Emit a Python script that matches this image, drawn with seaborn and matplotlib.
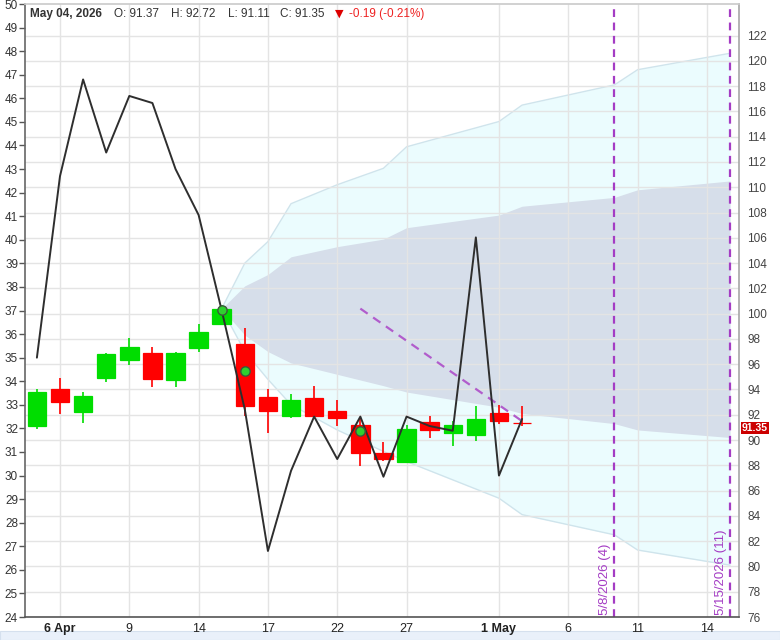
import numpy as np
import pandas as pd
import matplotlib
matplotlib.use("Agg")
import matplotlib.pyplot as plt
import matplotlib.patches as mpatches
import seaborn as sns

# ---------------- data ----------------
candle_dates = ["2026-04-03", "2026-04-06", "2026-04-07", "2026-04-08", "2026-04-09",
                "2026-04-10", "2026-04-13", "2026-04-14", "2026-04-15", "2026-04-16",
                "2026-04-17", "2026-04-20", "2026-04-21", "2026-04-22", "2026-04-23",
                "2026-04-24", "2026-04-27", "2026-04-28", "2026-04-29", "2026-04-30",
                "2026-05-01", "2026-05-04"]
opens = [91.14, 94.00, 92.25, 94.93, 96.37, 96.92, 94.77, 97.32, 99.17, 97.56, 93.40,
         91.89, 93.34, 92.29, 91.22, 88.97, 88.23, 91.41, 90.56, 90.40, 92.13, 91.37]
highs = [94.00, 94.90, 93.80, 96.90, 98.04, 97.38, 97.00, 99.15, 100.67, 98.89, 94.00,
         93.64, 94.27, 93.13, 91.73, 89.87, 91.22, 91.93, 91.54, 92.68, 92.79, 92.72]
lows = [90.90, 92.07, 91.35, 94.56, 95.90, 94.20, 94.20, 96.98, 99.10, 91.93, 90.56,
        91.73, 91.88, 91.14, 87.91, 88.36, 88.20, 90.18, 89.50, 89.95, 91.27, 91.11]
closes = [93.80, 93.05, 93.48, 96.82, 97.38, 94.85, 96.92, 98.51, 100.37, 92.68, 92.33,
          93.18, 91.93, 91.73, 88.94, 88.49, 90.88, 90.82, 91.22, 91.67, 91.54, 91.35]

# indicator (left axis)
indicator = [35.0, 42.7, 46.8, 43.7, 46.1, 45.8, 43.0, 41.05, 37.0, 32.8, 26.8,
             30.2, 32.5, 30.7, 32.5, 29.95, 32.5, 32.1, 31.9, 40.1, 30.0, 32.4]

# signal markers (price axis)
signal_dates = ["2026-04-15", "2026-04-16", "2026-04-23"]
signal_values = [100.3, 95.44, 90.72]

# forecast cone (price axis)
fan_dates = ["2026-04-15", "2026-04-16", "2026-04-17", "2026-04-20", "2026-04-22",
             "2026-04-24", "2026-04-27", "2026-05-01", "2026-05-04", "2026-05-08",
             "2026-05-11", "2026-05-15"]
outer_upper = [100.4, 104.0, 105.7, 108.7, 110.2, 111.5, 113.2, 115.2, 116.5, 118.1, 119.3, 120.6]
inner_upper = [100.4, 102.2, 103.1, 104.5, 105.3, 105.9, 106.8, 107.8, 108.5, 109.2, 109.8, 110.5]
inner_lower = [100.4, 98.3, 97.0, 96.1, 95.2, 94.3, 93.8, 92.6, 92.1, 91.3, 90.8, 90.2]
outer_lower = [100.4, 97.0, 94.8, 92.8, 90.8, 89.1, 88.3, 85.4, 84.1, 82.5, 81.3, 80.1]

# trend line (price axis)
trend_dates = ["2026-04-23", "2026-05-04"]
trend_values = [100.4, 91.5]

# markers of future dates
vline_dates = ["2026-05-08", "2026-05-15"]
vline_labels = ["5/8/2026 (4)", "5/15/2026 (11)"]

# x ticks
tick_dates = ["2026-04-06", "2026-04-09", "2026-04-14", "2026-04-17", "2026-04-22",
              "2026-04-27", "2026-05-01", "2026-05-06", "2026-05-11", "2026-05-14"]
tick_labels = ["6 Apr", "9", "14", "17", "22", "27", "1 May", "6", "11", "14"]
bold_ticks = ["6 Apr", "1 May"]

header_date = "May 04, 2026"
header_ohlc = ["O: 91.37", "H: 92.72", "L: 91.11", "C: 91.35"]
header_change = "-0.19 (-0.21%)"
last_price = 91.35

# ---------------- style ----------------
sns.set_theme(style="white")
plt.rcParams['font.family'] = ['Liberation Sans', 'DejaVu Sans']

trading_days = pd.bdate_range("2026-04-03", "2026-05-15")
pos = {d.strftime("%Y-%m-%d"): i for i, d in enumerate(trading_days)}

GREEN = "#00dd00"
RED = "#ff0000"
PURPLE = "#a43cc4"
GRID = "#e4e4e4"

fig = plt.figure(figsize=(7.8, 6.4), dpi=100)
fig.patch.set_facecolor("white")
fig.patches.append(mpatches.Rectangle((0, 0), 1, 9 / 640, transform=fig.transFigure,
                                      facecolor="#e9f0fa", edgecolor="#d5e0ee", lw=0.8, zorder=-5))

rect = [25 / 780, 23 / 640, 714 / 780, 613 / 640]
ax_ind = fig.add_axes(rect)
ax = ax_ind.twinx()
ax.set_zorder(1)
ax_ind.set_zorder(2)
ax.patch.set_visible(True)
ax.patch.set_facecolor("white")
ax_ind.patch.set_visible(False)

# forecast cone
fx = [pos[d] for d in fan_dates]
ax.fill_between(fx, outer_lower, outer_upper, color="#ebfcfe", lw=0, zorder=0.2)
ax.plot(fx, outer_upper, color="#cfe4ec", lw=1, zorder=0.25)
ax.plot(fx, outer_lower, color="#cfe4ec", lw=1, zorder=0.25)
ax.fill_between(fx, inner_lower, inner_upper, color="#d6deea", lw=0, zorder=0.3)

# candles
cx = [pos[d] for d in candle_dates]
for x, o, h, l, c in zip(cx, opens, highs, lows, closes):
    col = GREEN if c >= o else RED
    ax.vlines(x, l, h, color=col, lw=1.2, zorder=3)
    ax.bar(x, max(abs(c - o), 0.01), bottom=min(o, c), width=0.8, color=col,
           edgecolor=col, linewidth=0.9, zorder=4)

# trend line
ax.plot([pos[d] for d in trend_dates], trend_values, color="#b15ccc", lw=1.6,
        ls=(0, (4, 3)), zorder=5)

# vertical date markers
for d, lab in zip(vline_dates, vline_labels):
    x = pos[d]
    ax.axvline(x, color=PURPLE, lw=1.6, ls=(0, (3.5, 2.5)), zorder=5)
    ax.text(x - 0.40, 76.15, lab, rotation=90, ha="center", va="bottom",
            color=PURPLE, fontsize=9.5, zorder=6)

# indicator line on the left axis
sns.lineplot(x=cx, y=indicator, ax=ax_ind, color="#2e2e2e", lw=1.4, zorder=5)

# signal markers (price coordinates, drawn on top)
ax_ind.scatter([pos[d] for d in signal_dates], signal_values, transform=ax.transData,
               s=45, facecolor="#2fd02f", edgecolor="#3a5a3a", linewidth=1.0, zorder=7)

# limits / ticks
xlim = (-0.515, 30.39)
ax_ind.set_xlim(*xlim)
ax.set_xlim(*xlim)
ax_ind.set_ylim(24, 50)
ax.set_ylim(76, 124.5)

ax_ind.set_yticks(range(24, 51))
ax.set_yticks(range(76, 123, 2))
xt = [pos[d] for d in tick_dates]
ax_ind.set_xticks(xt)
ax_ind.set_xticklabels(tick_labels)
ax.xaxis.set_visible(True)
ax.set_xticks(xt)
ax.tick_params(axis="x", bottom=False, top=False, labelbottom=False, labeltop=False)
for t in ax_ind.get_xticklabels():
    t.set_family(['Liberation Sans Narrow', 'Liberation Sans', 'DejaVu Sans'])
    if t.get_text() in bold_ticks:
        t.set_fontweight("bold")

ax.grid(True, axis="both", color=GRID, lw=1, zorder=0.5)
ax_ind.grid(False)

ax_ind.tick_params(axis="y", left=True, length=4, width=1, color="#555555",
                   labelsize=8.5, labelcolor="#333333", pad=1)
ax_ind.tick_params(axis="x", bottom=False, length=0, labelsize=9,
                   labelcolor="#222222", pad=4)
ax.tick_params(axis="y", right=False, length=0, labelsize=8.5,
               labelcolor="#444444", pad=6)

for s in ax.spines.values():
    s.set_visible(False)
ax_ind.spines["left"].set_color("#666666")
ax_ind.spines["bottom"].set_color("#555555")
ax_ind.spines["left"].set_linewidth(1.2)
ax_ind.spines["bottom"].set_linewidth(1.2)
ax_ind.spines["top"].set_color("#cccccc")
ax_ind.spines["right"].set_color("#aaaaaa")
ax_ind.set_xlabel("")
ax_ind.set_ylabel("")
ax.set_ylabel("")

# last price tag
ax.annotate(f"{last_price:.2f}", xy=(1.0, last_price - 0.4), xycoords=ax.get_yaxis_transform(),
            xytext=(2, 0), textcoords="offset points", ha="left", va="center",
            color="white", fontsize=7.5, fontweight="bold", annotation_clip=False, zorder=10,
            bbox=dict(boxstyle="square,pad=0.08", fc="#cc0000", ec="none"))

# header
hy = 1 - 14 / 640
fig.text(30 / 780, hy, header_date, fontsize=8.5, fontweight="bold", color="#333333", va="center")
for xpix, s in zip([114, 171, 228, 280], header_ohlc):
    fig.text(xpix / 780, hy, s, fontsize=8.5, color="#333333", va="center")
fig.text(335 / 780, hy, "\u25bc", fontsize=8, color="#dd0000", va="center",
         family=['DejaVu Sans'])
fig.text(349 / 780, hy, header_change, fontsize=8.5, color="#ee2222", va="center")

fig.savefig("out.png", dpi=100)
